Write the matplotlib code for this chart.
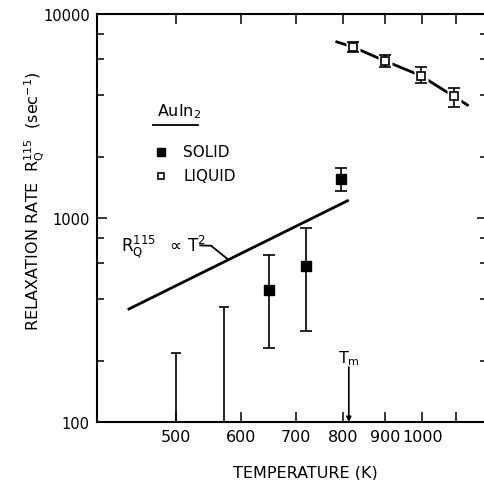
import numpy as np
import matplotlib
matplotlib.use("Agg")
import matplotlib.pyplot as plt
from matplotlib.ticker import FixedLocator, NullFormatter, NullLocator, FixedFormatter

# Dane (T w K, R w 1/s)
solid_T = [650, 720, 795]
solid_R = [445, 583, 1553]
solid_lo = [230, 279, 1355]
solid_hi = [660, 894, 1755]

# Granice gorne (bez punktu)
limit_T = [500, 572]
limit_R = [218, 366]

liquid_T = [822, 899, 995, 1092]
liquid_R = [6900, 5900, 4990, 3950]
liquid_lo = [6490, 5520, 4575, 3515]
liquid_hi = [7310, 6310, 5480, 4360]

# Linia przez punkty cieczy
fit_T = [786, 822, 899, 995, 1092, 1135]
fit_R = [7300, 6900, 5900, 4990, 3950, 3580]

# Prosta R ~ T^2
t2_T = [438, 810]
t2_R = [358, 1215]

Tm = 813

x_ticks = [500, 600, 700, 800, 900, 1000, 1100]
x_labels = ["500", "600", "700", "800", "900", "1000", ""]
y_major = [100, 1000, 10000]
y_minor = [200, 400, 600, 800, 2000, 4000, 6000, 8000]

plt.rcParams['font.family'] = ['DejaVu Sans']
plt.rcParams['mathtext.fontset'] = 'dejavusans'

fig = plt.figure(figsize=(4.84, 4.81), dpi=100)
ax = fig.add_axes([96.7 / 484, 1 - 423 / 481, 390.5 / 484, 408 / 481])
ax.set_xscale('log')
ax.set_yscale('log')
ax.set_xlim(400, 1200)
ax.set_ylim(100, 10000)

for s in ax.spines.values():
    s.set_linewidth(1.5)

ax.xaxis.set_major_locator(FixedLocator(x_ticks))
ax.xaxis.set_major_formatter(FixedFormatter(x_labels))
ax.xaxis.set_minor_locator(NullLocator())
ax.xaxis.set_minor_formatter(NullFormatter())
ax.yaxis.set_major_locator(FixedLocator(y_major))
ax.yaxis.set_major_formatter(FixedFormatter([str(v) for v in y_major]))
ax.yaxis.set_minor_locator(FixedLocator(y_minor))
ax.yaxis.set_minor_formatter(NullFormatter())

ax.tick_params(which='both', direction='in', top=True, right=True, width=1.1)
ax.tick_params(which='major', length=7.5)
ax.tick_params(which='minor', length=5)
ax.tick_params(axis='x', labelsize=11.5, pad=5)
ax.tick_params(axis='y', labelsize=10.5, pad=5)

# ciecz: linia, biale tlo pod znacznikami, slupki bledow
ax.plot(fit_T, fit_R, color='black', lw=2.0, zorder=1)
ax.plot(liquid_T, liquid_R, ls='none', marker='s', ms=10.5, mfc='white',
        mec='none', zorder=2)
l_err = [np.array(liquid_R) - np.array(liquid_lo), np.array(liquid_hi) - np.array(liquid_R)]
ax.errorbar(liquid_T, liquid_R, yerr=l_err, fmt='s', ms=5.5, mfc='white', mec='black',
            mew=1.2, ecolor='black', elinewidth=1.2, capsize=4, capthick=1.2, zorder=3)

# cialo stale
s_err = [np.array(solid_R) - np.array(solid_lo), np.array(solid_hi) - np.array(solid_R)]
ax.errorbar(solid_T, solid_R, yerr=s_err, fmt='s', ms=6.5, mfc='black', mec='black',
            ecolor='black', elinewidth=1.2, capsize=4.5, capthick=1.2, zorder=3)

# granice gorne
ax.vlines(limit_T, 100, limit_R, color='black', lw=1.2)
ax.plot(limit_T, limit_R, ls='none', marker='_', ms=7, mew=1.2, color='black')

# R ~ T^2
ax.plot(t2_T, t2_R, color='black', lw=2.0)
ax.text(0.062, 0.432, r'$\mathrm{R}_{\mathrm{Q}}^{115}$  $\propto\, \mathrm{T}^2$',
        transform=ax.transAxes, fontsize=12, ha='left', va='center')
ax.plot([0.265, 0.293, 0.337], [0.433, 0.432, 0.398], color='black', lw=1.3,
        transform=ax.transAxes)

# legenda
ax.text(0.155, 0.762, r'AuIn$_2$', transform=ax.transAxes, fontsize=11.5,
        ha='left', va='center')
ax.plot([0.145, 0.26], [0.729, 0.729], color='black', lw=1.3, transform=ax.transAxes)
ax.plot([0.164], [0.662], marker='s', ms=6, color='black', transform=ax.transAxes)
ax.plot([0.164], [0.603], marker='s', ms=5, mfc='white', mec='black', mew=1.2,
        transform=ax.transAxes)
ax.text(0.222, 0.662, 'SOLID', transform=ax.transAxes, fontsize=11, va='center')
ax.text(0.222, 0.603, 'LIQUID', transform=ax.transAxes, fontsize=11, va='center')

# temperatura topnienia
ax.annotate('', xy=(Tm, 100), xytext=(Tm, 186),
            arrowprops=dict(arrowstyle='-|>', color='black', lw=1.2,
                            mutation_scale=7, shrinkA=0, shrinkB=0))
ax.text(Tm, 187, r'T$_\mathrm{m}$', fontsize=11.5, ha='center', va='bottom')

ax.set_xlabel('TEMPERATURE (K)', fontsize=11.5)
ax.xaxis.set_label_coords(0.535, -0.103)
ax.set_ylabel(r'RELAXATION RATE  R$_\mathrm{Q}^{115}$  (sec$^{-1}$)', fontsize=11.5)
ax.yaxis.set_label_coords(-0.13, 0.545)

fig.savefig('out.png', dpi=100)
